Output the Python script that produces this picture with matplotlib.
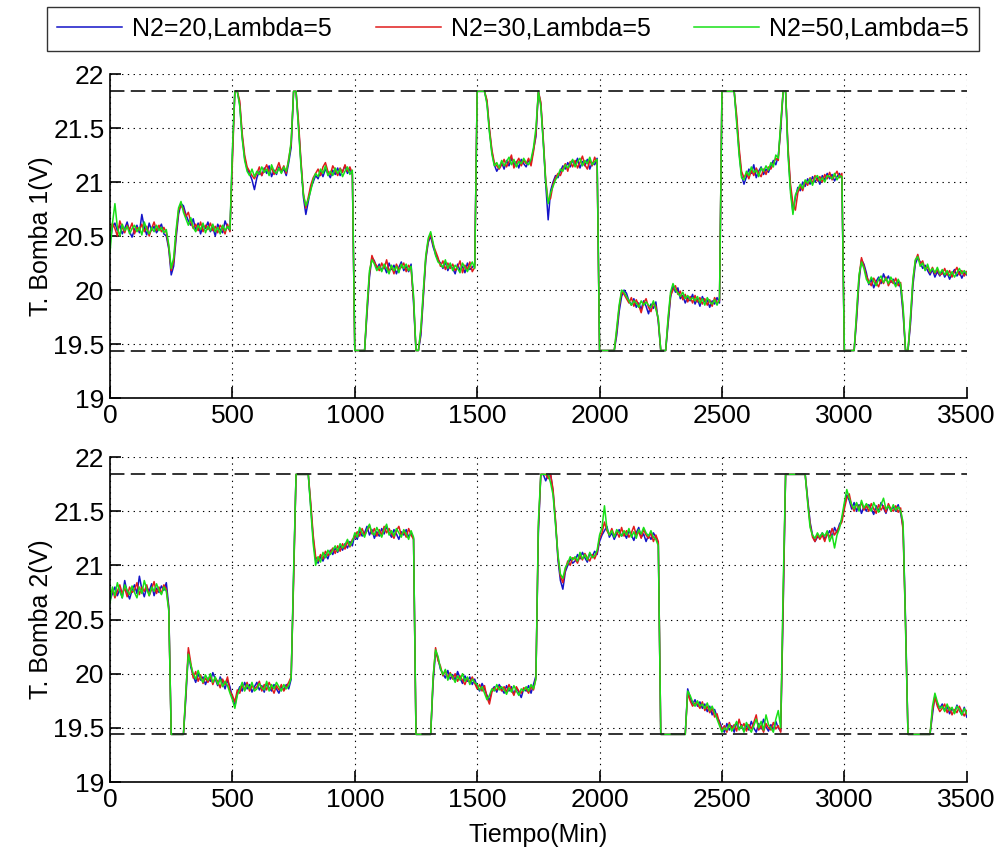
import matplotlib
matplotlib.use('Agg')
import matplotlib.pyplot as plt
from matplotlib.ticker import FormatStrFormatter

plt.rcParams['font.family'] = ['Liberation Sans', 'DejaVu Sans']
plt.rcParams['font.size'] = 18

# sample times (min), one sample every 10 min
tiempo = list(range(0, 3501, 10))

lim_sup = 21.84
lim_inf = 19.44

nombres = ['N2=20,Lambda=5', 'N2=30,Lambda=5', 'N2=50,Lambda=5']
colores = ['#1414c8', '#e01c1c', '#18e018']

# pump 1 voltage
b1_n20 = [
    20.45, 20.58, 20.62, 20.55, 20.60, 20.52, 20.57, 20.63, 20.54, 20.49,
    20.56, 20.60, 20.53, 20.70, 20.58, 20.51, 20.62, 20.55, 20.59, 20.53,
    20.57, 20.61, 20.52, 20.50, 20.38, 20.14, 20.22, 20.48, 20.70, 20.80,
    20.78, 20.70, 20.64, 20.60, 20.66, 20.55, 20.62, 20.52, 20.60, 20.57,
    20.63, 20.54, 20.58, 20.50, 20.61, 20.56, 20.53, 20.64, 20.58, 20.55,
    21.25, 21.84, 21.84, 21.72, 21.42, 21.22, 21.12, 21.08, 21.02, 20.93,
    21.04, 21.10, 21.06, 21.13, 21.08, 21.15, 21.05, 21.11, 21.07, 21.14,
    21.09, 21.12, 21.06, 21.18, 21.32, 21.84, 21.84, 21.52, 21.18, 20.86,
    20.70, 20.82, 20.94, 21.00, 21.06, 21.03, 21.10, 21.05, 21.12, 21.08,
    21.04, 21.11, 21.07, 21.13, 21.06, 21.10, 21.15, 21.08, 21.12, 21.07,
    19.44, 19.44, 19.44, 19.44, 19.44, 19.78, 20.12, 20.30, 20.27, 20.20,
    20.24, 20.18, 20.22, 20.16, 20.25, 20.19, 20.23, 20.15, 20.21, 20.26,
    20.18, 20.22, 20.17, 20.24, 19.88, 19.44, 19.44, 19.58, 19.93, 20.28,
    20.44, 20.50, 20.40, 20.33, 20.28, 20.25, 20.20, 20.26, 20.18, 20.23,
    20.20, 20.15, 20.24, 20.18, 20.22, 20.16, 20.25, 20.19, 20.21, 20.24,
    21.84, 21.84, 21.84, 21.84, 21.74, 21.48, 21.28, 21.16, 21.10, 21.14,
    21.18, 21.12, 21.20, 21.15, 21.22, 21.16, 21.19, 21.13, 21.21, 21.17,
    21.14, 21.20, 21.18, 21.30, 21.42, 21.84, 21.72, 21.38, 20.98, 20.65,
    20.92, 21.00, 21.06, 21.04, 21.10, 21.15, 21.12, 21.18, 21.14, 21.20,
    21.16, 21.22, 21.13, 21.19, 21.15, 21.21, 21.12, 21.18, 21.16, 21.22,
    19.44, 19.44, 19.44, 19.44, 19.44, 19.44, 19.44, 19.58, 19.80, 19.94,
    20.00, 19.97, 19.90, 19.86, 19.92, 19.84, 19.88, 19.82, 19.90, 19.85,
    19.78, 19.87, 19.83, 19.89, 19.70, 19.44, 19.44, 19.44, 19.68, 19.93,
    20.04, 19.98, 20.02, 19.92, 19.95, 19.88, 19.93, 19.90, 19.96, 19.87,
    19.92, 19.85, 19.94, 19.89, 19.91, 19.84, 19.90, 19.87, 19.93, 19.88,
    21.84, 21.84, 21.84, 21.84, 21.84, 21.84, 21.58, 21.28, 21.06, 20.98,
    21.05, 21.12, 21.08, 21.16, 21.04, 21.10, 21.14, 21.07, 21.12, 21.09,
    21.15, 21.20, 21.16, 21.24, 21.48, 21.84, 21.84, 21.28, 20.94, 20.72,
    20.86, 20.95, 20.92, 21.00, 20.96, 21.03, 20.98, 21.05, 21.00, 21.04,
    20.98, 21.06, 21.02, 21.08, 21.03, 21.07, 21.01, 21.05, 21.08, 21.03,
    19.44, 19.44, 19.44, 19.44, 19.44, 19.72, 20.08, 20.28, 20.24, 20.16,
    20.05, 20.10, 20.02, 20.08, 20.12, 20.06, 20.15, 20.09, 20.13, 20.07,
    20.10, 20.05, 20.08, 20.02, 19.78, 19.44, 19.44, 19.68, 20.04, 20.24,
    20.30, 20.26, 20.20, 20.23, 20.18, 20.14, 20.19, 20.12, 20.17, 20.13,
    20.18, 20.12, 20.16, 20.10, 20.15, 20.19, 20.13, 20.17, 20.11, 20.16,
    20.14]

b1_n30 = [
    20.55, 20.62, 20.57, 20.50, 20.64, 20.58, 20.53, 20.60, 20.56, 20.62,
    20.52, 20.58, 20.55, 20.61, 20.54, 20.59, 20.50, 20.57, 20.63, 20.55,
    20.60, 20.54, 20.58, 20.53, 20.40, 20.18, 20.26, 20.52, 20.74, 20.78,
    20.75, 20.68, 20.72, 20.63, 20.57, 20.61, 20.55, 20.63, 20.54, 20.60,
    20.56, 20.62, 20.55, 20.59, 20.53, 20.60, 20.57, 20.52, 20.61, 20.54,
    21.20, 21.84, 21.84, 21.75, 21.45, 21.25, 21.14, 21.10, 21.06, 21.03,
    21.08, 21.14, 21.06, 21.11, 21.16, 21.09, 21.13, 21.07, 21.12, 21.18,
    21.10, 21.15, 21.08, 21.22, 21.35, 21.84, 21.84, 21.56, 21.20, 20.90,
    20.76, 20.86, 20.97, 21.04, 21.08, 21.12, 21.06, 21.14, 21.18, 21.10,
    21.07, 21.15, 21.11, 21.06, 21.13, 21.09, 21.16, 21.10, 21.14, 21.08,
    19.44, 19.44, 19.44, 19.44, 19.44, 19.82, 20.15, 20.32, 20.26, 20.22,
    20.18, 20.25, 20.20, 20.28, 20.17, 20.22, 20.15, 20.24, 20.19, 20.21,
    20.25, 20.17, 20.23, 20.19, 19.92, 19.44, 19.44, 19.62, 19.96, 20.30,
    20.46, 20.52, 20.42, 20.36, 20.30, 20.22, 20.27, 20.19, 20.25, 20.20,
    20.24, 20.18, 20.21, 20.27, 20.16, 20.23, 20.19, 20.26, 20.17, 20.21,
    21.84, 21.84, 21.84, 21.84, 21.76, 21.50, 21.30, 21.18, 21.15, 21.12,
    21.16, 21.21, 21.14, 21.19, 21.25, 21.13, 21.18, 21.22, 21.15, 21.20,
    21.17, 21.22, 21.15, 21.28, 21.45, 21.84, 21.74, 21.40, 21.02, 20.82,
    20.85, 20.98, 21.04, 21.08, 21.06, 21.12, 21.17, 21.10, 21.19, 21.14,
    21.20, 21.13, 21.18, 21.24, 21.16, 21.12, 21.20, 21.15, 21.23, 21.17,
    19.44, 19.44, 19.44, 19.44, 19.44, 19.44, 19.44, 19.62, 19.84, 19.98,
    19.96, 19.92, 19.88, 19.93, 19.85, 19.91, 19.86, 19.79, 19.88, 19.92,
    19.84, 19.80, 19.88, 19.85, 19.72, 19.44, 19.44, 19.44, 19.72, 19.95,
    20.00, 20.04, 19.96, 19.99, 19.91, 19.96, 19.89, 19.94, 19.88, 19.95,
    19.89, 19.93, 19.87, 19.92, 19.86, 19.91, 19.85, 19.93, 19.88, 19.90,
    21.84, 21.84, 21.84, 21.84, 21.84, 21.84, 21.62, 21.32, 21.10, 21.04,
    21.08, 21.03, 21.11, 21.06, 21.13, 21.08, 21.05, 21.12, 21.07, 21.14,
    21.12, 21.17, 21.22, 21.20, 21.52, 21.84, 21.84, 21.32, 20.98, 20.80,
    20.74, 20.90, 20.96, 20.92, 21.01, 20.97, 21.04, 20.99, 21.06, 21.01,
    21.05, 21.00, 21.07, 21.03, 21.09, 21.02, 21.06, 21.10, 21.04, 21.08,
    19.44, 19.44, 19.44, 19.44, 19.44, 19.76, 20.12, 20.30, 20.22, 20.13,
    20.08, 20.04, 20.11, 20.07, 20.03, 20.10, 20.06, 20.12, 20.04, 20.09,
    20.06, 20.11, 20.04, 20.07, 19.82, 19.44, 19.44, 19.72, 20.08, 20.27,
    20.33, 20.24, 20.27, 20.19, 20.22, 20.16, 20.21, 20.15, 20.19, 20.14,
    20.15, 20.20, 20.14, 20.18, 20.12, 20.17, 20.21, 20.14, 20.18, 20.13,
    20.17]

b1_n50 = [
    20.35, 20.62, 20.80, 20.58, 20.50, 20.61, 20.55, 20.59, 20.52, 20.57,
    20.60, 20.54, 20.58, 20.51, 20.63, 20.56, 20.52, 20.58, 20.54, 20.60,
    20.55, 20.58, 20.53, 20.56, 20.42, 20.20, 20.30, 20.56, 20.76, 20.82,
    20.72, 20.66, 20.60, 20.67, 20.58, 20.54, 20.60, 20.56, 20.62, 20.53,
    20.59, 20.55, 20.61, 20.54, 20.58, 20.52, 20.60, 20.55, 20.59, 20.56,
    21.30, 21.84, 21.84, 21.70, 21.40, 21.20, 21.10, 21.06, 21.12, 21.05,
    21.10, 21.07, 21.14, 21.09, 21.12, 21.06, 21.16, 21.10, 21.08, 21.13,
    21.08, 21.14, 21.10, 21.20, 21.38, 21.84, 21.84, 21.50, 21.15, 20.88,
    20.78, 20.84, 20.92, 21.02, 21.08, 21.05, 21.12, 21.08, 21.15, 21.06,
    21.10, 21.06, 21.13, 21.08, 21.12, 21.05, 21.10, 21.14, 21.07, 21.11,
    19.44, 19.44, 19.44, 19.44, 19.44, 19.85, 20.18, 20.28, 20.24, 20.18,
    20.22, 20.17, 20.24, 20.20, 20.15, 20.23, 20.18, 20.22, 20.16, 20.24,
    20.20, 20.24, 20.18, 20.22, 19.95, 19.44, 19.44, 19.65, 20.00, 20.32,
    20.48, 20.54, 20.44, 20.32, 20.26, 20.24, 20.21, 20.28, 20.20, 20.25,
    20.18, 20.23, 20.20, 20.16, 20.25, 20.21, 20.17, 20.22, 20.26, 20.20,
    21.84, 21.84, 21.84, 21.84, 21.72, 21.46, 21.26, 21.15, 21.18, 21.13,
    21.20, 21.15, 21.19, 21.23, 21.16, 21.21, 21.14, 21.19, 21.17, 21.22,
    21.18, 21.16, 21.21, 21.32, 21.50, 21.84, 21.70, 21.36, 21.00, 20.80,
    20.90, 20.96, 21.02, 21.06, 21.12, 21.10, 21.16, 21.13, 21.17, 21.21,
    21.14, 21.19, 21.22, 21.15, 21.20, 21.17, 21.23, 21.16, 21.19, 21.21,
    19.44, 19.44, 19.44, 19.44, 19.44, 19.44, 19.44, 19.65, 19.86, 20.00,
    19.98, 19.94, 19.90, 19.86, 19.90, 19.88, 19.84, 19.90, 19.86, 19.89,
    19.86, 19.84, 19.90, 19.82, 19.74, 19.44, 19.44, 19.44, 19.75, 19.98,
    20.06, 20.00, 19.97, 19.94, 19.98, 19.92, 19.95, 19.91, 19.93, 19.90,
    19.94, 19.88, 19.92, 19.86, 19.93, 19.89, 19.87, 19.91, 19.86, 19.92,
    21.84, 21.84, 21.84, 21.84, 21.84, 21.84, 21.55, 21.25, 21.04, 21.02,
    21.10, 21.06, 21.14, 21.09, 21.11, 21.05, 21.13, 21.10, 21.15, 21.11,
    21.18, 21.14, 21.25, 21.22, 21.55, 21.84, 21.84, 21.25, 20.90, 20.70,
    20.88, 20.93, 20.98, 20.94, 21.02, 20.99, 21.03, 20.97, 21.04, 21.06,
    21.01, 21.04, 21.00, 21.06, 21.05, 21.03, 21.08, 21.02, 21.06, 21.05,
    19.44, 19.44, 19.44, 19.44, 19.44, 19.80, 20.14, 20.26, 20.20, 20.10,
    20.06, 20.12, 20.08, 20.04, 20.10, 20.13, 20.07, 20.11, 20.06, 20.12,
    20.08, 20.03, 20.10, 20.05, 19.85, 19.44, 19.44, 19.75, 20.10, 20.28,
    20.31, 20.22, 20.25, 20.18, 20.24, 20.17, 20.20, 20.16, 20.21, 20.15,
    20.19, 20.14, 20.18, 20.13, 20.17, 20.12, 20.16, 20.20, 20.15, 20.18,
    20.15]

# pump 2 voltage
b2_n20 = [
    20.68, 20.74, 20.80, 20.72, 20.78, 20.70, 20.86, 20.75, 20.69, 20.77,
    20.82, 20.74, 20.90, 20.78, 20.71, 20.80, 20.76, 20.83, 20.72, 20.79,
    20.75, 20.81, 20.77, 20.84, 20.62, 19.44, 19.44, 19.44, 19.44, 19.44,
    19.44, 19.78, 20.20, 20.06, 19.98, 19.92, 20.00, 19.94, 19.97, 19.90,
    19.96, 19.93, 20.01, 19.95, 19.89, 19.97, 19.92, 19.86, 19.94, 19.88,
    19.78, 19.70, 19.82, 19.88, 19.84, 19.92, 19.86, 19.90, 19.83, 19.88,
    19.92, 19.85, 19.89, 19.83, 19.91, 19.87, 19.84, 19.90, 19.86, 19.82,
    19.88, 19.85, 19.90, 19.86, 19.95, 20.90, 21.84, 21.84, 21.84, 21.84,
    21.84, 21.84, 21.55, 21.25, 21.05, 21.02, 21.08, 21.04, 21.10, 21.06,
    21.14, 21.10, 21.16, 21.12, 21.18, 21.14, 21.20, 21.16, 21.22, 21.18,
    21.28, 21.24, 21.32, 21.27, 21.30, 21.36, 21.28, 21.33, 21.25, 21.31,
    21.27, 21.34, 21.29, 21.36, 21.30, 21.26, 21.33, 21.29, 21.24, 21.31,
    21.28, 21.33, 21.26, 21.30, 21.25, 19.44, 19.44, 19.44, 19.44, 19.44,
    19.44, 19.44, 19.92, 20.20, 20.14, 20.04, 20.00, 19.96, 20.03, 19.95,
    19.99, 19.94, 20.02, 19.96, 19.91, 19.98, 19.93, 19.97, 19.90, 19.95,
    19.88, 19.84, 19.91, 19.86, 19.80, 19.75, 19.85, 19.88, 19.83, 19.90,
    19.86, 19.82, 19.89, 19.84, 19.88, 19.81, 19.87, 19.83, 19.78, 19.86,
    19.84, 19.89, 19.82, 19.90, 19.98, 21.30, 21.84, 21.84, 21.78, 21.84,
    21.84, 21.68, 21.40, 21.05, 20.86, 20.78, 20.94, 21.00, 21.06, 21.02,
    21.04, 21.10, 21.06, 21.12, 21.07, 21.03, 21.11, 21.08, 21.13, 21.10,
    21.22, 21.28, 21.32, 21.36, 21.26, 21.30, 21.24, 21.29, 21.33, 21.27,
    21.30, 21.25, 21.32, 21.28, 21.23, 21.30, 21.35, 21.26, 21.29, 21.22,
    21.28, 21.24, 21.30, 21.26, 21.20, 19.44, 19.44, 19.44, 19.44, 19.44,
    19.44, 19.44, 19.44, 19.44, 19.44, 19.44, 19.86, 19.78, 19.72, 19.76,
    19.70, 19.74, 19.68, 19.72, 19.65, 19.70, 19.62, 19.67, 19.60, 19.56,
    19.50, 19.46, 19.54, 19.48, 19.52, 19.46, 19.55, 19.49, 19.53, 19.47,
    19.52, 19.48, 19.56, 19.50, 19.46, 19.54, 19.49, 19.58, 19.51, 19.47,
    19.53, 19.48, 19.56, 19.50, 19.47, 20.60, 21.84, 21.84, 21.84, 21.84,
    21.84, 21.84, 21.84, 21.84, 21.84, 21.62, 21.40, 21.28, 21.22, 21.26,
    21.26, 21.30, 21.24, 21.28, 21.32, 21.26, 21.35, 21.30, 21.38, 21.42,
    21.55, 21.65, 21.60, 21.52, 21.58, 21.50, 21.56, 21.48, 21.54, 21.50,
    21.56, 21.52, 21.47, 21.55, 21.50, 21.58, 21.53, 21.48, 21.55, 21.51,
    21.54, 21.50, 21.56, 21.48, 21.35, 20.50, 19.44, 19.44, 19.44, 19.44,
    19.44, 19.44, 19.44, 19.44, 19.44, 19.44, 19.62, 19.80, 19.72, 19.68,
    19.72, 19.66, 19.70, 19.63, 19.68, 19.64, 19.71, 19.66, 19.62, 19.69,
    19.60]

b2_n30 = [
    20.72, 20.78, 20.70, 20.76, 20.82, 20.74, 20.79, 20.71, 20.80, 20.75,
    20.77, 20.84, 20.73, 20.80, 20.76, 20.82, 20.72, 20.78, 20.85, 20.74,
    20.80, 20.74, 20.82, 20.78, 20.60, 19.44, 19.44, 19.44, 19.44, 19.44,
    19.44, 19.82, 20.24, 20.10, 19.96, 20.02, 19.93, 19.99, 19.91, 19.96,
    19.92, 19.98, 19.90, 19.96, 19.93, 19.87, 19.95, 19.90, 19.97, 19.84,
    19.80, 19.74, 19.85, 19.82, 19.90, 19.85, 19.92, 19.84, 19.89, 19.86,
    19.88, 19.93, 19.84, 19.90, 19.85, 19.92, 19.87, 19.82, 19.89, 19.85,
    19.90, 19.84, 19.88, 19.92, 19.97, 20.85, 21.84, 21.84, 21.84, 21.84,
    21.84, 21.84, 21.58, 21.28, 21.08, 21.04, 21.10, 21.06, 21.13, 21.09,
    21.12, 21.16, 21.11, 21.18, 21.13, 21.20, 21.15, 21.22, 21.17, 21.24,
    21.26, 21.31, 21.27, 21.34, 21.28, 21.32, 21.37, 21.29, 21.34, 21.27,
    21.33, 21.28, 21.36, 21.30, 21.34, 21.29, 21.25, 21.32, 21.36, 21.28,
    21.31, 21.26, 21.34, 21.28, 21.24, 19.44, 19.44, 19.44, 19.44, 19.44,
    19.44, 19.44, 19.95, 20.24, 20.12, 20.07, 19.98, 20.03, 19.96, 20.01,
    19.95, 20.00, 19.93, 19.98, 19.94, 19.90, 19.96, 19.92, 19.97, 19.91,
    19.86, 19.90, 19.84, 19.89, 19.78, 19.72, 19.83, 19.87, 19.85, 19.88,
    19.84, 19.88, 19.83, 19.90, 19.85, 19.80, 19.88, 19.84, 19.82, 19.87,
    19.86, 19.82, 19.88, 19.85, 19.96, 21.35, 21.84, 21.84, 21.84, 21.80,
    21.84, 21.70, 21.42, 21.08, 20.90, 20.84, 20.96, 21.04, 21.00, 21.07,
    21.06, 21.02, 21.09, 21.05, 21.11, 21.07, 21.04, 21.10, 21.06, 21.12,
    21.25, 21.30, 21.40, 21.32, 21.28, 21.34, 21.27, 21.31, 21.26, 21.35,
    21.27, 21.32, 21.26, 21.30, 21.36, 21.28, 21.31, 21.25, 21.33, 21.28,
    21.25, 21.30, 21.22, 21.28, 21.22, 19.44, 19.44, 19.44, 19.44, 19.44,
    19.44, 19.44, 19.44, 19.44, 19.44, 19.44, 19.82, 19.75, 19.70, 19.73,
    19.72, 19.68, 19.74, 19.66, 19.70, 19.64, 19.68, 19.60, 19.63, 19.54,
    19.48, 19.52, 19.46, 19.55, 19.49, 19.53, 19.47, 19.58, 19.50, 19.54,
    19.47, 19.53, 19.49, 19.55, 19.62, 19.48, 19.52, 19.46, 19.54, 19.50,
    19.48, 19.55, 19.49, 19.52, 19.46, 20.65, 21.84, 21.84, 21.84, 21.84,
    21.84, 21.84, 21.84, 21.84, 21.84, 21.60, 21.38, 21.26, 21.22, 21.28,
    21.24, 21.28, 21.22, 21.30, 21.26, 21.34, 21.28, 21.32, 21.36, 21.40,
    21.52, 21.62, 21.66, 21.55, 21.50, 21.57, 21.52, 21.58, 21.51, 21.55,
    21.50, 21.57, 21.52, 21.48, 21.56, 21.51, 21.55, 21.49, 21.57, 21.52,
    21.50, 21.55, 21.49, 21.53, 21.32, 20.45, 19.44, 19.44, 19.44, 19.44,
    19.44, 19.44, 19.44, 19.44, 19.44, 19.44, 19.66, 19.78, 19.70, 19.65,
    19.68, 19.72, 19.64, 19.69, 19.62, 19.67, 19.64, 19.70, 19.65, 19.61,
    19.66]

b2_n50 = [
    20.65, 20.80, 20.72, 20.84, 20.76, 20.70, 20.82, 20.77, 20.73, 20.81,
    20.75, 20.70, 20.80, 20.74, 20.86, 20.78, 20.72, 20.80, 20.76, 20.83,
    20.77, 20.73, 20.80, 20.76, 20.58, 19.44, 19.44, 19.44, 19.44, 19.44,
    19.44, 19.85, 20.18, 20.08, 20.00, 19.95, 20.03, 19.96, 19.92, 19.99,
    19.94, 20.00, 19.92, 19.97, 19.90, 19.95, 19.88, 19.93, 19.89, 19.82,
    19.76, 19.68, 19.80, 19.86, 19.92, 19.84, 19.90, 19.86, 19.92, 19.84,
    19.86, 19.91, 19.87, 19.85, 19.93, 19.84, 19.90, 19.86, 19.92, 19.88,
    19.84, 19.90, 19.86, 19.89, 19.96, 20.95, 21.84, 21.84, 21.84, 21.84,
    21.84, 21.84, 21.52, 21.20, 21.00, 21.08, 21.03, 21.12, 21.07, 21.14,
    21.10, 21.14, 21.18, 21.13, 21.20, 21.16, 21.19, 21.24, 21.18, 21.22,
    21.30, 21.26, 21.35, 21.30, 21.26, 21.33, 21.38, 21.30, 21.28, 21.35,
    21.30, 21.26, 21.33, 21.38, 21.28, 21.32, 21.27, 21.34, 21.30, 21.26,
    21.33, 21.29, 21.24, 21.32, 21.26, 19.44, 19.44, 19.44, 19.44, 19.44,
    19.44, 19.44, 19.98, 20.22, 20.16, 20.05, 19.99, 20.04, 19.94, 20.00,
    19.97, 19.92, 19.98, 19.94, 20.00, 19.93, 19.97, 19.90, 19.95, 19.92,
    19.90, 19.85, 19.88, 19.82, 19.76, 19.80, 19.86, 19.84, 19.90, 19.85,
    19.88, 19.85, 19.81, 19.87, 19.83, 19.89, 19.84, 19.80, 19.86, 19.84,
    19.88, 19.84, 19.90, 19.86, 19.95, 21.40, 21.84, 21.84, 21.84, 21.84,
    21.76, 21.65, 21.38, 21.10, 20.92, 20.88, 20.98, 21.02, 21.08, 21.05,
    21.08, 21.04, 21.12, 21.06, 21.10, 21.05, 21.12, 21.07, 21.09, 21.14,
    21.28, 21.35, 21.55, 21.34, 21.28, 21.32, 21.26, 21.33, 21.30, 21.27,
    21.32, 21.28, 21.34, 21.26, 21.31, 21.25, 21.33, 21.29, 21.35, 21.30,
    21.27, 21.32, 21.26, 21.24, 21.18, 19.44, 19.44, 19.44, 19.44, 19.44,
    19.44, 19.44, 19.44, 19.44, 19.44, 19.44, 19.84, 19.80, 19.74, 19.70,
    19.75, 19.70, 19.72, 19.68, 19.73, 19.66, 19.70, 19.64, 19.58, 19.52,
    19.46, 19.50, 19.48, 19.53, 19.47, 19.51, 19.56, 19.48, 19.52, 19.46,
    19.55, 19.50, 19.46, 19.52, 19.58, 19.50, 19.56, 19.48, 19.62, 19.53,
    19.50, 19.46, 19.58, 19.66, 19.50, 20.80, 21.84, 21.84, 21.84, 21.84,
    21.84, 21.84, 21.84, 21.84, 21.84, 21.58, 21.35, 21.28, 21.25, 21.30,
    21.26, 21.30, 21.27, 21.32, 21.22, 21.28, 21.16, 21.28, 21.34, 21.45,
    21.58, 21.70, 21.62, 21.56, 21.52, 21.58, 21.50, 21.60, 21.53, 21.57,
    21.54, 21.50, 21.58, 21.53, 21.49, 21.56, 21.62, 21.52, 21.55, 21.50,
    21.56, 21.51, 21.54, 21.50, 21.40, 20.40, 19.44, 19.44, 19.44, 19.44,
    19.44, 19.44, 19.44, 19.44, 19.44, 19.44, 19.70, 19.82, 19.74, 19.68,
    19.70, 19.65, 19.72, 19.66, 19.69, 19.63, 19.70, 19.67, 19.62, 19.68,
    19.63]

fig = plt.figure(figsize=(10.02, 8.56), dpi=100)
ax1 = fig.add_axes([0.1098, 0.535, 0.855, 0.3785])
ax2 = fig.add_axes([0.1098, 0.0864, 0.855, 0.3797])

for ax, series, ylab in [(ax1, [b1_n20, b1_n30, b1_n50], 'T. Bomba 1(V)'),
                         (ax2, [b2_n20, b2_n30, b2_n50], 'T. Bomba 2(V)')]:
    for y, c, n in zip(series, colores, nombres):
        ax.plot(tiempo, y, color=c, lw=1.1, label=n)
    # saturation limits
    ax.plot([0, 3500], [lim_sup, lim_sup], color='#222222', lw=1.3, dashes=(8, 3.5))
    ax.plot([0, 3500], [lim_inf, lim_inf], color='#222222', lw=1.3, dashes=(8, 3.5))

    ax.set_xlim(0, 3500)
    ax.set_ylim(19, 22)
    ax.set_xticks(range(0, 3501, 500))
    ax.set_yticks([19, 19.5, 20, 20.5, 21, 21.5, 22])
    ax.yaxis.set_major_formatter(FormatStrFormatter('%g'))
    ax.grid(True, color='black', lw=0.8, dashes=(1.2, 4))
    ax.spines['top'].set_visible(False)
    ax.spines['right'].set_visible(False)
    ax.spines['left'].set_linewidth(1.2)
    ax.spines['bottom'].set_linewidth(1.2)
    ax.tick_params(direction='in', length=8, width=1.2, labelsize=19, pad=4)
    ax.set_ylabel(ylab, fontsize=18, labelpad=0)

ax2.set_xlabel('Tiempo(Min)', fontsize=18, labelpad=8)

leg = fig.legend(handles=ax1.get_lines()[:3], labels=nombres, loc='upper center',
                 bbox_to_anchor=(0.512, 0.992), ncol=3, fontsize=18, frameon=True,
                 fancybox=False, edgecolor='black', handlelength=2.6,
                 handletextpad=0.4, columnspacing=1.75, borderpad=0.4,
                 borderaxespad=0)
leg.get_frame().set_linewidth(1.0)

fig.savefig('out.png', dpi=100)
